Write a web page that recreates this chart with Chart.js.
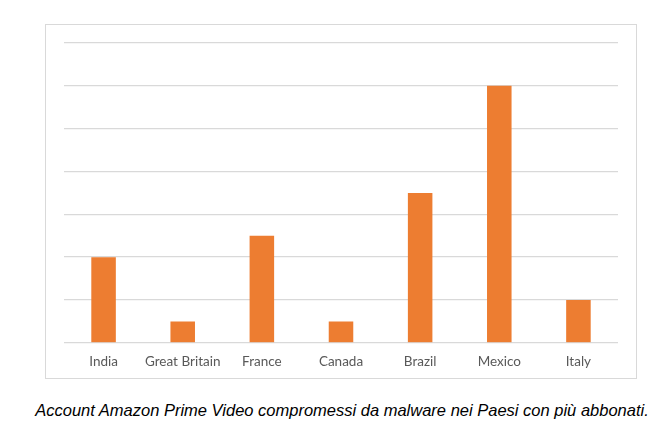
<!DOCTYPE html>
<html>
<head>
<meta charset="utf-8">
<script src="https://cdn.jsdelivr.net/npm/chart.js@4"></script>
<style>
  html, body { margin: 0; padding: 0; background: #fff; }
  body { width: 672px; height: 432px; position: relative; overflow: hidden; }
  #box {
    position: absolute; left: 45px; top: 24px;
    width: 592px; height: 355px;
    box-sizing: border-box; border: 1px solid #d9d9d9;
  }
  #caption {
    position: absolute; left: 0; width: 684px; top: 401px;
    text-align: center; white-space: nowrap;
    font: italic 16.5px "Liberation Sans", Arial, sans-serif; color: #000;
  }
</style>
</head>
<body>
<div id="box"><canvas id="chart" width="590" height="353"></canvas></div>
<div id="caption">Account Amazon Prime Video compromessi da malware nei Paesi con più abbonati.</div>
<script>
// countries on the x axis
const countries = ['India', 'Great Britain', 'France', 'Canada', 'Brazil', 'Mexico', 'Italy'];
// bar heights, read off the gridlines (no scale shown in the original)
const accounts = [2, 0.5, 2.5, 0.5, 3.5, 6, 1];

const barColor = '#ED7D31';
const gridColor = '#d9d9d9';

new Chart(document.getElementById('chart'), {
  type: 'bar',
  data: {
    labels: countries,
    datasets: [{
      data: accounts,
      backgroundColor: barColor,
      borderWidth: 0,
      barPercentage: 0.31,
      categoryPercentage: 1
    }]
  },
  options: {
    responsive: false,
    animation: false,
    layout: { padding: { left: 18, right: 18, top: 18, bottom: -3 } },
    plugins: { legend: { display: false }, tooltip: { enabled: false } },
    scales: {
      x: {
        grid: { display: false, drawTicks: false, tickLength: 0 },
        border: { display: false },
        ticks: {
          color: '#595959',
          padding: 11,
          maxRotation: 0,
          minRotation: 0,
          autoSkip: false,
          font: { family: 'Lato', size: 13.5 }
        }
      },
      y: {
        min: 0,
        max: 7,
        ticks: { display: false, stepSize: 1 },
        grid: { color: gridColor, lineWidth: 1.3, drawTicks: false },
        border: { display: false }
      }
    }
  }
});
</script>
</body>
</html>
